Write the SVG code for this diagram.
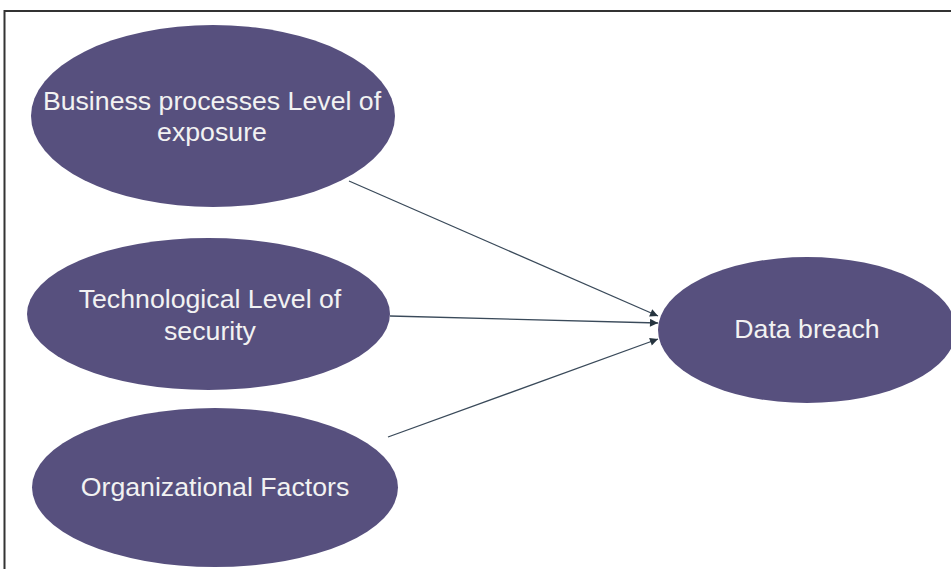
<svg xmlns="http://www.w3.org/2000/svg" width="951" height="569" viewBox="0 0 951 569">
  <style>
    .node { fill: #57507e; }
    .label { fill: #f2f2f2; font-family: "Liberation Sans", Arial, sans-serif; font-size: 26.7px; text-anchor: middle; }
    .link { stroke: #3a4a5a; stroke-width: 1.3; fill: none; marker-end: url(#head); }
    .frame { stroke: #333; stroke-width: 2; fill: none; }
  </style>
  <defs>
    <marker id="head" viewBox="0 0 10 10" refX="10" refY="5" markerWidth="10" markerHeight="8" markerUnits="userSpaceOnUse" orient="auto">
      <path d="M0,0 L10,5 L0,10 Z" fill="#26343f"/>
    </marker>
  </defs>
  <rect width="951" height="569" fill="#ffffff"/>
  <!-- frame -->
  <path class="frame" d="M4.5,569 V11 H951"/>

  <g id="connectors">
    <line class="link" x1="349" y1="181" x2="658" y2="316"/>
    <line class="link" x1="390" y1="316" x2="658" y2="323"/>
    <line class="link" x1="388" y1="437" x2="658" y2="339"/>
  </g>

  <g id="business">
    <ellipse class="node" cx="213" cy="116" rx="182" ry="91"/>
    <text class="label" x="212" y="110">Business processes Level of</text>
    <text class="label" x="212" y="141">exposure</text>
  </g>
  <g id="technological">
    <ellipse class="node" cx="208.5" cy="314" rx="181.5" ry="76"/>
    <text class="label" x="210" y="308">Technological Level of</text>
    <text class="label" x="210" y="340">security</text>
  </g>
  <g id="organizational">
    <ellipse class="node" cx="215" cy="487.5" rx="183" ry="79.5"/>
    <text class="label" x="215" y="496">Organizational Factors</text>
  </g>
  <g id="databreach">
    <ellipse class="node" cx="807" cy="330" rx="149" ry="73"/>
    <text class="label" x="807" y="338">Data breach</text>
  </g>
</svg>
